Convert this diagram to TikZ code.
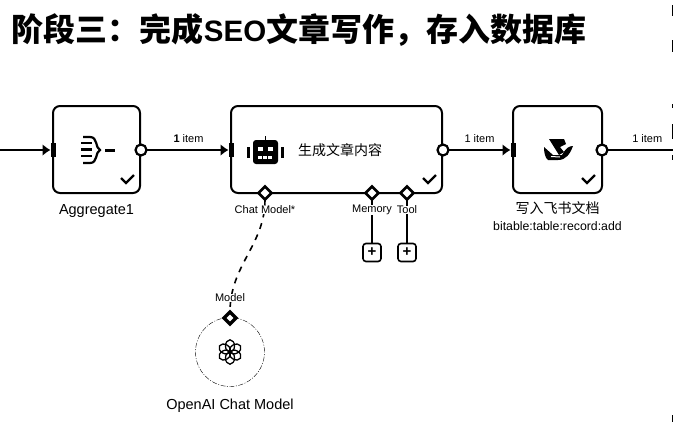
\documentclass[tikz,border=0pt]{standalone}
\usepackage{fontspec}
\usepackage{xcolor}
\usepackage{tikz}
\usetikzlibrary{arrows.meta,positioning,fit,shapes.geometric}
\setmainfont{Liberation Sans}
\newfontfamily\cjk{Noto Sans CJK SC}

\begin{document}
\begin{tikzpicture}[
    x=1pt, y=-1pt,
    outer sep=0pt,
    nodebox/.style={rectangle, draw, line width=2pt, rounded corners=7pt, minimum height=87pt, inner sep=0pt},
    outport/.style={circle, draw, line width=2.2pt, fill=white, minimum size=11pt, inner sep=0pt},
    inport/.style={rectangle, fill=black, minimum width=5pt, minimum height=14pt, inner sep=0pt},
    subport/.style={diamond, draw, line width=2.6pt, fill=white, minimum size=13pt, inner sep=0pt},
    addbox/.style={rectangle, draw, line width=1.6pt, rounded corners=3pt, minimum size=18pt, inner sep=0pt, font=\bfseries\fontsize{15}{15}\selectfont},
    arrow/.style={-{Latex[length=8pt,width=12pt]}, line width=1.6pt},
    wire/.style={line width=1.6pt},
    small/.style={font=\fontsize{11}{13}\selectfont, inner sep=0pt},
    label/.style={font=\fontsize{14.5}{16}\selectfont, inner sep=0pt},
    tick/.style={line width=2.2pt}
]
\useasboundingbox (0,0) rectangle (673,424);
\node[anchor=west, inner sep=0pt] (title) at (12,30) {\cjk\bfseries\fontsize{32}{36}\selectfont 阶段三：完成{\rmfamily\bfseries\fontsize{29.5}{36}\selectfont SEO}文章写作，存入数据库};

% boxes
\node[nodebox, minimum width=87pt] (aggregate) at (96.5,149.5) {};
\node[nodebox, minimum width=211pt, right=91pt of aggregate] (writer) {};
\node[nodebox, minimum width=89pt, right=71pt of writer] (feishu) {};
\node[label, below=12pt of aggregate] (aggname) {Aggregate1};
\node[inner sep=0pt, anchor=west] (writertext) at (298,150) {\cjk\fontsize{14}{16}\selectfont 生成文章内容};
\node[inner sep=0pt, below=9pt of feishu, font=\cjk\fontsize{14}{16}\selectfont] (feishuname) {写入飞书文档};
\node[inner sep=0pt, below=7pt of feishuname, font=\fontsize{12.3}{14}\selectfont] (feishusub) {bitable:table:record:add};

% ports
\coordinate (start) at (0,150);
\coordinate (end) at (673,150);
\node[inport] (in1) at (53,150) {};
\node[inport] (in2) at (231,150) {};
\node[inport] (in3) at (513,150) {};
\node[outport] (out1) at (141,150) {};
\node[outport] (out2) at (443,150) {};
\node[outport] (out3) at (602,150) {};
\node[subport] (chat) at (265,193) {};
\node[subport] (memory) at (372,193) {};
\node[subport] (tool) at (407,193) {};
\node[addbox] (addmemory) at (372,252.5) {+};
\node[addbox] (addtool) at (407,252.5) {+};

% openai node
\node[circle, draw, thin, dash pattern=on 5pt off 1.5pt on 1pt off 1.5pt, minimum size=69pt, inner sep=0pt] (openai) at (230,352) {};
\node[subport, line width=3.2pt, minimum size=12pt] (model) at (230,318) {};
\node[label, below=12pt of openai] (openainame) {OpenAI Chat Model};

% connectors
\draw[arrow] (start) -- (in1);
\draw[arrow] (out1) -- node[small, above=7pt, xshift=1pt] (item1) {\textbf{1} item} (in2);
\draw[arrow] (out2) -- node[small, above=7pt] (item2) {1 item} (in3);
\draw[wire] (out3) -- node[small, above=7pt, xshift=7pt] (item3) {1 item} (end);
\draw[wire] (memory) -- (addmemory);
\draw[wire] (tool) -- (addtool);
\draw[wire, dash pattern=on 6pt off 6pt] (chat) .. controls (265,245) and (230,265) .. (model);

% port labels
\node[small, fill=white] (chatlabel) at (265,210) {Chat Model*};
\node[small, fill=white] (memorylabel) at (372,210) {Memory};
\node[small, fill=white] (toollabel) at (407,210) {Tool};
\node[small, fill=white] (modellabel) at (230,298) {Model};

% checks
\foreach \cx in {127,429,588}
    \draw[tick] (\cx-6,178) -- (\cx-1,183) -- (\cx+7,175);

% aggregate icon
\foreach \iy in {143,149.5,156}
    \draw[line width=2.2pt] (81,\iy) -- (92,\iy);
\draw[line width=2.2pt] (83,137) -- (90,137) .. controls (98,137) and (95,148) .. (100,150) .. controls (95,152) and (98,163) .. (90,163) -- (83,163);
\draw[line width=3pt] (105,150) -- (115,150);

% robot icon
\fill[rounded corners=3pt] (253,140) rectangle (278,164);
\draw[line width=1.8pt] (265.5,136) -- (265.5,141);
\draw[line width=3pt] (248.5,147) -- (248.5,158);
\draw[line width=3pt] (282,147) -- (282,158);
\fill[white] (258,147) rectangle (263,151);
\fill[white] (268,147) rectangle (273,151);
\foreach \mx in {258,263,268}
    \fill[white] (\mx,155.5) rectangle (\mx+4,158.5);

% feishu icon
\fill (549,139) -- (564,139) -- (566,144) -- (560,147) -- (564,152) -- (559,155) -- cycle;
\fill (544,147) -- (553,155) -- (562,155) .. controls (566,148) and (569,146) .. (573,146) .. controls (570,154) and (566,160) .. (558,160) -- (548,160) .. controls (545,158) and (544,152) .. cycle;
\draw[white, line width=1pt] (551,156.5) -- (560,157);

% openai icon
\foreach \ang in {0,60,...,300}
    \draw[line width=1.3pt, rotate around={\ang:(230,352)}] (230,346) ellipse (4.5pt and 6.2pt);

% edge marks
\foreach \ya/\yb in {5/16,40/52,104/108,124/139,155/160,415/422}
    \draw[line width=1pt] (672,\ya) -- (672,\yb);
\end{tikzpicture}
\end{document}
